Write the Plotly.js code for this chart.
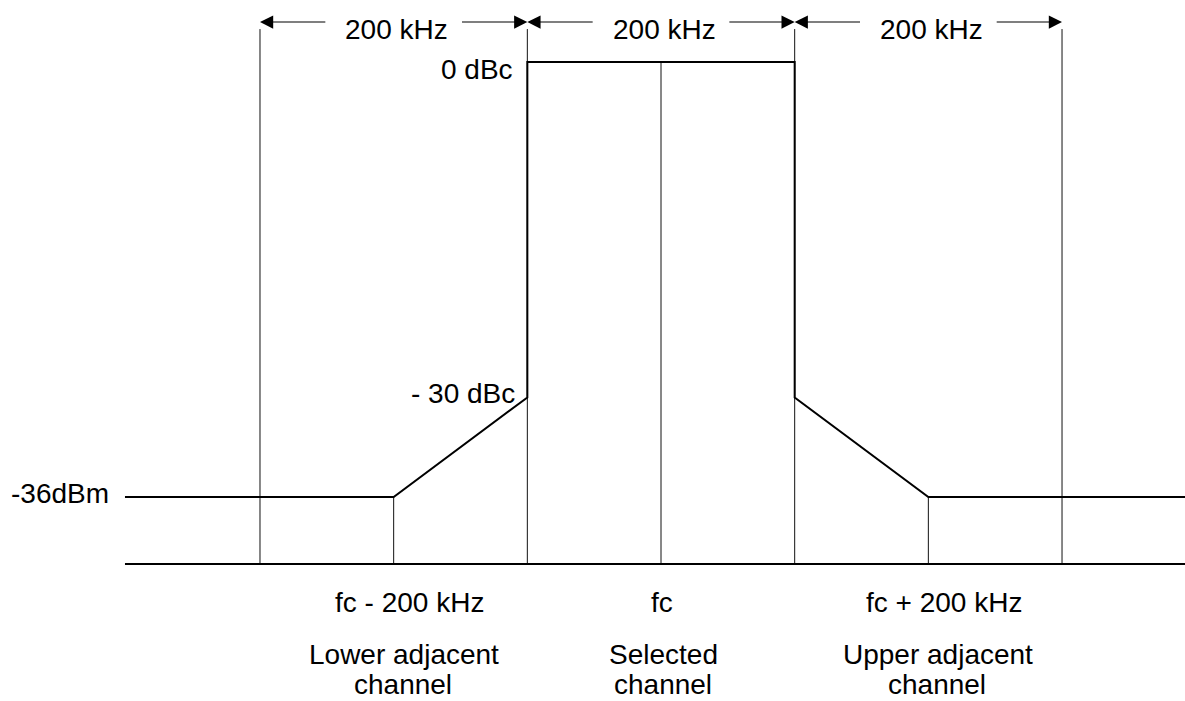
<!DOCTYPE html>
<html>
<head>
<meta charset="utf-8">
<script src="https://cdn.plot.ly/plotly-3.0.1.min.js"></script>
<style>html,body{margin:0;padding:0;background:#fff;}#chart{width:1185px;height:701px;}</style>
</head>
<body>
<div id="chart"></div>
<script>
// Frequency offsets from carrier fc, in kHz
const channelEdges = [-300, -100, 100, 300];      // span limits (arrow ends)
const spanCentres = [-200, 0, 200];
const spanLabels = ['200 kHz', '200 kHz', '200 kHz'];
// Spectrum mask (relative level, dB-like units, not to scale at the floor)
const maskFreq  = [-401, -200, -100, -100, 100, 100, 200, 420];
const maskLevel = [-38.9, -38.9, -30, 0, 0, -30, -38.9, -38.9];
const levelLabels = ['0 dBc', '- 30 dBc', '-36dBm'];
const levelValues = [0, -30, -38.9];
const levelLabelFreq = [-100, -100, -401];
// Axis baseline and dimension-line level
const baseLevel = -44.9;
const arrowLevel = 3.58;
const guideTop = 2.95;
const freqLabels = ['fc - 200 kHz', 'fc', 'fc + 200 kHz'];
const chanLine1 = ['Lower adjacent', 'Selected', 'Upper adjacent'];
const chanLine2 = ['channel', 'channel', 'channel'];

const FONT = {family: 'Liberation Sans, Arial, sans-serif', size: 28, color: '#000'};

// guide lines
const gx = [], gy = [];
function vline(x, y0, y1) { gx.push(x, x, null); gy.push(y0, y1, null); }
vline(channelEdges[0], guideTop, baseLevel);
vline(channelEdges[1], guideTop, baseLevel);
vline(channelEdges[2], guideTop, baseLevel);
vline(channelEdges[3], guideTop, baseLevel);
vline(spanCentres[1], maskLevel[3], baseLevel);
vline(spanCentres[0], levelValues[2], baseLevel);
vline(spanCentres[2], levelValues[2], baseLevel);

const traces = [
  {x: gx, y: gy, mode: 'lines', line: {color: '#111', width: 1}, hoverinfo: 'skip'},
  {x: [maskFreq[0], maskFreq[maskFreq.length - 1]], y: [baseLevel, baseLevel], mode: 'lines',
   line: {color: '#000', width: 2}, hoverinfo: 'skip'},
  {x: maskFreq, y: maskLevel, mode: 'lines', line: {color: '#000', width: 2}, hoverinfo: 'skip'}
];

const ann = [];
// dimension arrows: from the quarter points of each span to its edges
for (let i = 0; i < 3; i++) {
  const a = channelEdges[i], b = channelEdges[i + 1];
  const q1 = a + (b - a) / 4, q3 = a + 3 * (b - a) / 4;
  ann.push({x: a, y: arrowLevel, ax: q1, ay: arrowLevel, axref: 'x', ayref: 'y', xref: 'x', yref: 'y',
            text: '', showarrow: true, arrowhead: 2, arrowsize: 2.4, arrowwidth: 1.1, arrowcolor: '#000'});
  ann.push({x: b, y: arrowLevel, ax: q3, ay: arrowLevel, axref: 'x', ayref: 'y', xref: 'x', yref: 'y',
            text: '', showarrow: true, arrowhead: 2, arrowsize: 2.4, arrowwidth: 1.1, arrowcolor: '#000'});
  ann.push({x: spanCentres[i], y: arrowLevel, xref: 'x', yref: 'y', text: spanLabels[i], showarrow: false,
            font: FONT, xanchor: 'center', yanchor: 'middle', yshift: -7, xshift: 3});
}
// level labels
const lvShift = [{x: -12, y: -7}, {x: -10, y: 4}, {x: -14, y: 3}];
for (let i = 0; i < 3; i++) {
  ann.push({x: levelLabelFreq[i], y: levelValues[i], xref: 'x', yref: 'y', text: levelLabels[i], showarrow: false,
            font: FONT, xanchor: 'right', yanchor: 'middle', xshift: lvShift[i].x, yshift: lvShift[i].y});
}
// bottom labels
const colShift = [1, 0, 1];
for (let i = 0; i < 3; i++) {
  const s = colShift[i];
  ann.push({x: spanCentres[i], y: baseLevel, xref: 'x', yref: 'y', text: freqLabels[i], showarrow: false,
            font: FONT, xanchor: 'center', yanchor: 'middle', xshift: 15 * s + 1, yshift: -38});
  ann.push({x: spanCentres[i], y: baseLevel, xref: 'x', yref: 'y', text: chanLine1[i], showarrow: false,
            font: FONT, xanchor: 'center', yanchor: 'middle', xshift: 8 * s + 2, yshift: -90});
  ann.push({x: spanCentres[i], y: baseLevel, xref: 'x', yref: 'y', text: chanLine2[i], showarrow: false,
            font: FONT, xanchor: 'center', yanchor: 'middle', xshift: 7 * s + 2, yshift: -120});
}

const layout = {
  width: 1185, height: 701,
  margin: {l: 0, r: 0, t: 0, b: 0, pad: 0},
  paper_bgcolor: '#fff', plot_bgcolor: '#fff',
  showlegend: false,
  xaxis: {range: [-494.5, 392.0], visible: false, fixedrange: true},
  yaxis: {range: [-57.15, 5.55], visible: false, fixedrange: true},
  annotations: ann,
  font: FONT
};
Plotly.newPlot('chart', traces, layout, {displayModeBar: false, staticPlot: true});
</script>
</body>
</html>
